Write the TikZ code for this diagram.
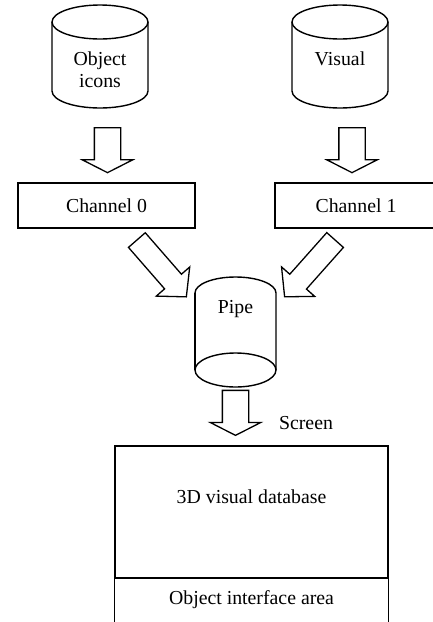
\documentclass[tikz,border=0pt]{standalone}
\usepackage{fontspec}
\setmainfont{Liberation Serif}
\usetikzlibrary{shapes,arrows.meta,positioning,calc}

% hollow block arrow between two named points
\newcommand{\fatarrow}[3][]{%
  \path let \p1=($(#3)-(#2)$), \n1={atan2(\y1,\x1)}, \n2={veclen(\x1,\y1)} in
    node[fatarrow, #1, rotate=\n1, minimum height=\n2] (#2-#3) at ($(#2)!0.5!(#3)$) {};}

% cylinder outline around a label node
\newcommand{\dbcyl}[1]{%
  \draw[cyl] ($(#1.north)+(-48,29.5)$) -- ++(0,-69)
    arc[start angle=180, end angle=360, x radius=48, y radius=17] -- ++(0,69);
  \draw[cyl] ($(#1.north)+(0,29.5)$) ellipse[x radius=48, y radius=17];}

\begin{document}
\begin{tikzpicture}[
    x=1pt, y=1pt,
    every node/.style={font=\fontsize{19.8}{22}\selectfont, inner sep=0pt},
    cyl/.style={line width=1.4pt},
    chan/.style={rectangle, draw, line width=1.4pt, minimum width=177pt, minimum height=45pt},
    panel/.style={rectangle, draw, line width=1.4pt, minimum width=273pt, minimum height=132pt},
    fatarrow/.style={single arrow, draw, fill=white, line width=1.3pt, inner xsep=0pt, inner ysep=12.5pt,
      single arrow head extend=12pt, single arrow tip angle=126},
    slant/.style={inner ysep=10.5pt, single arrow head extend=11pt, single arrow tip angle=95}
]
    \useasboundingbox (0,0) rectangle (433,-622);

    % sources
    \node[anchor=north, align=center] (obj) at (100,-51.5) {Object\\icons};
    \node[anchor=north] (vis) at (340,-51.5) {Visual};
    \dbcyl{obj}
    \dbcyl{vis}

    % channels
    \node[chan] (ch0) at (106.5,-205.5) {Channel 0};
    \node[chan, minimum width=162pt] (ch1) at (356,-205.5) {Channel 1};

    % pipe
    \node[anchor=north] (pipe) at (235.5,-300) {Pipe};
    \draw[cyl] ($(pipe.north)+(-40.5,7)$)
      arc[start angle=180, end angle=0, x radius=40.5, y radius=16] -- ++(0,-77);
    \draw[cyl] ($(pipe.north)+(-40.5,7)$) -- ++(0,-77);
    \draw[cyl] ($(pipe.north)+(0,-70)$) ellipse[x radius=40.5, y radius=17];

    % screen
    \node (scr) at (306,-423.5) {Screen};
    \node[panel] (db) at (251.5,-512) {};
    \node (dbl) at (251.5,-497) {3D visual database};
    \draw[line width=1.4pt] (db.south west) -- ++(0,-50);
    \draw[line width=1.4pt] (db.south east) -- ++(0,-50);
    \node (oia) at (251.5,-600) {Object interface area};

    % arrows
    \coordinate (s0) at ($(ch0.north)+(1,58)$);
    \coordinate (e0) at ($(ch0.north)+(1,13)$);
    \coordinate (s1) at ($(ch1.north)+(-4,58)$);
    \coordinate (e1) at ($(ch1.north)+(-4,13)$);
    \coordinate (t0) at ($(ch0.south)+(27,-7.5)$);
    \coordinate (p0) at ($(pipe.north)+(-52.5,7)$);
    \coordinate (t1) at ($(ch1.south)+(-17.5,-7.5)$);
    \coordinate (p1) at ($(pipe.north)+(52.5,7)$);
    \coordinate (sp) at ($(pipe.north)+(0,-87)$);
    \coordinate (ep) at ($(pipe.north)+(0,-132)$);
    \fatarrow{s0}{e0}
    \fatarrow{s1}{e1}
    \fatarrow[slant]{t0}{p0}
    \fatarrow[slant]{t1}{p1}
    \fatarrow{sp}{ep}
\end{tikzpicture}
\end{document}
